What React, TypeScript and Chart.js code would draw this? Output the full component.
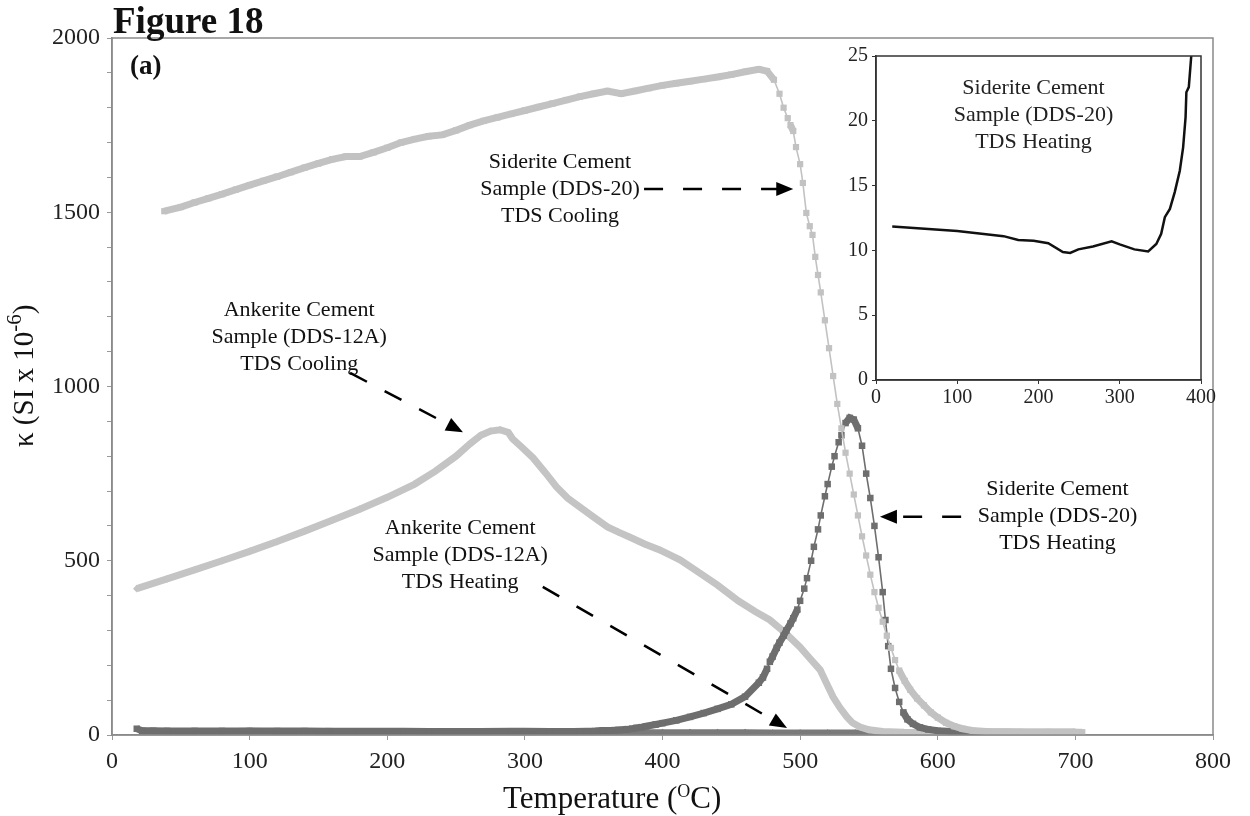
import React, { useEffect, useRef } from "react";
import { Chart, registerables } from "chart.js";
Chart.register(...registerables);

const FONT = "'Liberation Serif', 'Times New Roman', serif";

// Siderite cement (DDS-20), TDS cooling
const sidCoolT = [38, 50, 60, 70, 80, 90, 100, 110, 120, 130, 140, 150, 160, 170, 180, 190, 200, 210, 220, 230, 240, 250, 260, 270, 280, 290, 300, 310, 320, 330, 340, 350, 360, 370, 380, 390, 400, 410, 420, 430, 440, 450, 460, 470, 476, 481, 485, 488, 491, 493, 495, 497, 500, 502, 504.5, 507, 509, 511, 513, 515, 518, 521, 524, 527, 530, 533, 536, 539, 542, 545, 548, 551, 554, 557, 560, 563, 566, 569, 572, 576, 580, 585, 590, 595, 600, 606, 612, 618, 625, 635, 650, 665, 680, 695, 705];
const sidCoolK = [1503, 1515, 1528, 1540, 1552, 1565, 1578, 1590, 1602, 1615, 1628, 1640, 1652, 1660, 1660, 1672, 1685, 1700, 1710, 1718, 1722, 1735, 1750, 1762, 1772, 1782, 1792, 1802, 1812, 1822, 1832, 1840, 1848, 1840, 1848, 1856, 1864, 1870, 1876, 1882, 1888, 1895, 1903, 1910, 1905, 1880, 1840, 1800, 1770, 1750, 1733, 1687, 1638, 1584, 1498, 1460, 1435, 1372, 1320, 1270, 1190, 1110, 1030, 950, 880, 810, 750, 690, 630, 570, 515, 460, 410, 365, 325, 285, 250, 215, 185, 155, 130, 105, 85, 65, 50, 35, 25, 18, 13, 10, 9, 8, 8, 8, 8];

// Siderite cement (DDS-20), TDS heating
const sidHeatT = [18, 22, 30, 40, 60, 80, 100, 120, 140, 157, 175, 193, 212, 230, 239, 249, 267, 290, 300, 318, 335, 345, 351, 356, 362, 368, 374, 378, 381, 385, 388, 395, 400, 410, 420, 430, 440, 450, 460, 470, 473, 476, 478, 480, 483, 485, 488, 490, 493, 495, 498, 500, 503, 505, 508, 510, 513, 515, 518, 520, 523, 525, 528, 530, 533, 536, 539, 542, 545, 548, 551, 554, 557, 560, 562, 564, 566, 569, 572, 575, 578, 582, 587, 593, 600, 610, 620, 640, 660, 680, 700];
const sidHeatK = [18, 12, 12, 11.8, 11.6, 11.5, 11.4, 11.3, 11.2, 11.1, 10.8, 10.75, 10.56, 9.87, 9.8, 10.08, 10.3, 10.7, 10.46, 10.08, 9.92, 10.5, 11.3, 12.6, 13.2, 14.5, 16.2, 18, 20.3, 22.6, 25, 30, 34, 42, 52, 63, 75, 88, 110, 150, 165, 190, 210, 225, 250, 265, 285, 300, 320, 335, 360, 385, 420, 450, 500, 540, 590, 630, 685, 720, 770, 800, 840, 860, 895, 910, 905, 880, 830, 750, 680, 600, 510, 410, 330, 255, 190, 135, 95, 65, 45, 32, 22, 16, 12, 10, 9, 8, 8, 8, 8];

// Ankerite cement (DDS-12A), TDS cooling
const ankCoolT = [18, 40, 60, 80, 100, 120, 140, 160, 180, 200, 220, 235, 250, 260, 268, 275, 282, 288, 291, 298, 306, 315, 323, 331, 340, 350, 360, 368, 376, 387, 398, 413, 425, 440, 455, 467, 478, 490, 500, 507, 514.5, 519, 524, 529, 534, 538, 543.6, 550, 560, 575, 600, 620];
const ankCoolK = [420, 448, 474, 500, 527, 555, 585, 616, 648, 682, 720, 757, 800, 835, 860, 872, 876, 868, 850, 825, 795, 752, 712, 680, 654, 625, 597, 582, 568, 548, 531, 502, 470, 430, 385, 355, 330, 290, 252, 220, 187, 150, 109, 78, 52, 35, 23, 15, 10, 8, 7, 7];

// Ankerite cement (DDS-12A), TDS heating
const ankHeatT = [20, 40, 60, 80, 100, 120, 140, 160, 180, 200, 220, 240, 260, 280, 300, 320, 340, 360, 380, 400, 420, 440, 460, 480, 500, 520, 540, 560, 580, 600, 620, 640, 660, 680, 700];
const ankHeatK = [12, 11, 11, 11, 12, 11, 11, 11, 10, 10, 10, 10, 9, 9, 9, 9, 9, 9, 8, 8, 8, 8, 8, 7, 7, 7, 7, 6, 6, 6, 6, 6, 6, 6, 6];

// Inset: siderite cement (DDS-20), TDS heating, low-temperature detail
const insetT = [20, 100, 157, 175, 194, 212, 230, 239, 249, 267, 290, 300, 318, 335, 345, 351, 355.5, 361.7, 367.7, 373.9, 378, 381, 382, 385, 388];
const insetK = [11.85, 11.5, 11.1, 10.8, 10.75, 10.56, 9.87, 9.8, 10.08, 10.3, 10.7, 10.46, 10.08, 9.92, 10.5, 11.28, 12.56, 13.2, 14.5, 16.15, 17.95, 20.26, 22.2, 22.6, 25];

const xTicksMain = { min: 0, max: 800, step: 100 };
const yTicksMain = { min: 0, max: 2000, step: 100, labelEvery: 500 };
const xTicksInset = { min: 0, max: 400, step: 100 };
const yTicksInset = { min: 0, max: 25, step: 5 };

// Annotation labels, anchored in data units (centre of the middle line)
const labelTexts = [
  ["Siderite Cement", "Sample (DDS-20)", "TDS Cooling"],
  ["Ankerite Cement", "Sample (DDS-12A)", "TDS Cooling"],
  ["Ankerite Cement", "Sample (DDS-12A)", "TDS Heating"],
  ["Siderite Cement", "Sample (DDS-20)", "TDS Heating"],
];
const labelAt = [
  [325.5, 1567],
  [136, 1142],
  [253, 517],
  [687, 628],
];
// Arrows: [fromT, fromK, toT, toK]
const arrowsAt = [
  [386.6, 1567, 495, 1567],
  [173, 1039, 255, 869],
  [313, 425, 490.5, 20],
  [617, 626, 558, 626],
];
const insetLabel = ["Siderite Cement", "Sample (DDS-20)", "TDS Heating"];

const toXY = (xs: number[], ys: number[]) => xs.map((x, i) => ({ x, y: ys[i] }));

const band = (thick: number, thin: number) => (ctx: any) => {
  const dx = Math.abs(ctx.p1.x - ctx.p0.x);
  const dy = Math.abs(ctx.p1.y - ctx.p0.y);
  return dy > 2.5 * dx ? thin : thick;
};

function drawRich(ctx: CanvasRenderingContext2D, parts: { t: string; sup?: boolean }[], x: number, y: number, size: number, supSize: number, rise: number) {
  let cx = x;
  for (const p of parts) {
    ctx.font = `${p.sup ? supSize : size}px ${FONT}`;
    ctx.fillText(p.t, cx, p.sup ? y - rise : y);
    cx += ctx.measureText(p.t).width;
  }
}

function drawArrow(ctx: CanvasRenderingContext2D, x0: number, y0: number, x1: number, y1: number) {
  const ang = Math.atan2(y1 - y0, x1 - x0);
  const head = 17;
  const hw = 7;
  const bx = x1 - head * Math.cos(ang);
  const by = y1 - head * Math.sin(ang);
  ctx.save();
  ctx.strokeStyle = "#000";
  ctx.fillStyle = "#000";
  ctx.lineWidth = 2.5;
  ctx.setLineDash([19, 20]);
  ctx.beginPath();
  ctx.moveTo(x0, y0);
  ctx.lineTo(bx + 2 * Math.cos(ang), by + 2 * Math.sin(ang));
  ctx.stroke();
  ctx.setLineDash([]);
  ctx.beginPath();
  ctx.moveTo(x1, y1);
  ctx.lineTo(bx - hw * Math.sin(ang), by + hw * Math.cos(ang));
  ctx.lineTo(bx + hw * Math.sin(ang), by - hw * Math.cos(ang));
  ctx.closePath();
  ctx.fill();
  ctx.restore();
}

const mainDecor = {
  id: "mainDecor",
  afterDraw(chart: any) {
    const { ctx, chartArea: a, scales } = chart;
    const sx = scales.x, sy = scales.y;
    ctx.save();
    ctx.strokeStyle = "#8a8a8a";
    ctx.lineWidth = 1.5;
    ctx.strokeRect(a.left, a.top, a.right - a.left, a.bottom - a.top);
    ctx.fillStyle = "#111";
    ctx.textBaseline = "alphabetic";
    ctx.textAlign = "left";
    ctx.font = `bold 37px ${FONT}`;
    ctx.fillText("Figure 18", 113, 33);
    ctx.font = `bold 27px ${FONT}`;
    ctx.fillText("(a)", 130, 74);
    // axis titles
    drawRich(ctx, [{ t: "Temperature (" }, { t: "O", sup: true }, { t: "C)" }], 503, 808, 31, 18, 11);
    ctx.save();
    ctx.translate(33, 447);
    ctx.rotate(-Math.PI / 2);
    drawRich(ctx, [{ t: "\u03BA (SI x 10" }, { t: "-6", sup: true }, { t: ")" }], 0, 0, 29, 21, 12);
    ctx.restore();
    // annotations
    ctx.font = `22px ${FONT}`;
    ctx.textAlign = "center";
    ctx.textBaseline = "middle";
    labelTexts.forEach((lines, i) => {
      const cx = sx.getPixelForValue(labelAt[i][0]);
      const cy = sy.getPixelForValue(labelAt[i][1]);
      lines.forEach((l, j) => ctx.fillText(l, cx, cy + (j - 1) * 27));
    });
    arrowsAt.forEach((r) => {
      drawArrow(ctx, sx.getPixelForValue(r[0]), sy.getPixelForValue(r[1]), sx.getPixelForValue(r[2]), sy.getPixelForValue(r[3]));
    });
    ctx.restore();
  },
};

const insetDecor = {
  id: "insetDecor",
  beforeDraw(chart: any) {
    const { ctx, chartArea: a } = chart;
    ctx.save();
    ctx.fillStyle = "#fff";
    ctx.fillRect(a.left, a.top, a.right - a.left, a.bottom - a.top);
    ctx.restore();
  },
  afterDraw(chart: any) {
    const { ctx, chartArea: a } = chart;
    ctx.save();
    ctx.strokeStyle = "#333";
    ctx.lineWidth = 1.5;
    ctx.strokeRect(a.left, a.top, a.right - a.left, a.bottom - a.top);
    ctx.fillStyle = "#222";
    ctx.font = `22px ${FONT}`;
    ctx.textAlign = "center";
    ctx.textBaseline = "middle";
    const cx = (a.left + a.right) / 2 - 5;
    insetLabel.forEach((l, j) => ctx.fillText(l, cx, a.top + 32 + j * 27));
    ctx.restore();
  },
};

export default function App() {
  const mainRef = useRef<HTMLCanvasElement>(null);
  const insetRef = useRef<HTMLCanvasElement>(null);

  useEffect(() => {
    const tickFont = { family: FONT, size: 24 };
    const main = new Chart(mainRef.current!, {
      type: "scatter",
      data: {
        datasets: [
          {
            label: "Siderite cooling",
            data: toXY(sidCoolT, sidCoolK),
            showLine: true,
            borderColor: "#c2c2c2",
            backgroundColor: "#c2c2c2",
            pointStyle: "rect",
            pointRadius: 4.4,
            pointBorderWidth: 0,
            segment: { borderWidth: band(7, 1.6) },
            order: 1,
          },
          {
            label: "Siderite heating",
            data: toXY(sidHeatT, sidHeatK),
            showLine: true,
            borderColor: "#6e6e6e",
            backgroundColor: "#6e6e6e",
            pointStyle: "rect",
            pointRadius: 4.6,
            pointBorderWidth: 0,
            segment: { borderWidth: band(7, 1.6) },
            order: 2,
          },
          {
            label: "Ankerite cooling",
            data: toXY(ankCoolT, ankCoolK),
            showLine: true,
            borderColor: "#c4c4c4",
            backgroundColor: "#c4c4c4",
            pointStyle: "rectRot",
            pointRadius: 3.8,
            pointBorderWidth: 0,
            segment: { borderWidth: band(7, 2) },
            order: 3,
          },
          {
            label: "Ankerite heating",
            data: toXY(ankHeatT, ankHeatK),
            showLine: true,
            borderColor: "#7a7a7a",
            backgroundColor: "#7a7a7a",
            pointStyle: "rectRot",
            pointRadius: 3.4,
            pointBorderWidth: 0,
            segment: { borderWidth: band(6, 2) },
            order: 4,
          },
        ],
      },
      options: {
        animation: false,
        responsive: false,
        maintainAspectRatio: false,
        layout: { padding: { top: 38, right: 37, left: 0, bottom: 0 } },
        plugins: { legend: { display: false }, tooltip: { enabled: false } },
        scales: {
          x: {
            type: "linear",
            min: xTicksMain.min,
            max: xTicksMain.max,
            ticks: { stepSize: xTicksMain.step, font: tickFont, color: "#222", padding: 7, maxRotation: 0 },
            grid: { drawOnChartArea: false, tickLength: 5, color: "#999" },
            border: { display: true, color: "#8a8a8a", width: 1.5 },
            afterFit: (s: any) => { s.height = 81; },
          },
          y: {
            type: "linear",
            min: yTicksMain.min,
            max: yTicksMain.max,
            ticks: {
              stepSize: yTicksMain.step,
              font: tickFont,
              color: "#222",
              padding: 7,
              callback: (v: any) => (Number(v) % yTicksMain.labelEvery === 0 ? String(v) : ""),
            },
            grid: { drawOnChartArea: false, tickLength: 5, color: "#999" },
            border: { display: true, color: "#8a8a8a", width: 1.5 },
            afterFit: (s: any) => { s.width = 112; },
          },
        },
      },
      plugins: [mainDecor],
    } as any);

    const insetFont = { family: FONT, size: 20 };
    const inset = new Chart(insetRef.current!, {
      type: "scatter",
      data: {
        datasets: [
          {
            data: toXY(insetT, insetK),
            showLine: true,
            borderColor: "#111",
            borderWidth: 2.5,
            pointRadius: 0,
          },
        ],
      },
      options: {
        animation: false,
        responsive: false,
        maintainAspectRatio: false,
        layout: { padding: { top: 15, right: 29, left: 0, bottom: 0 } },
        plugins: { legend: { display: false }, tooltip: { enabled: false } },
        scales: {
          x: {
            type: "linear",
            min: xTicksInset.min,
            max: xTicksInset.max,
            ticks: { stepSize: xTicksInset.step, font: insetFont, color: "#222", padding: 2, maxRotation: 0 },
            grid: { drawOnChartArea: false, tickLength: 4, color: "#333" },
            border: { display: true, color: "#333", width: 1.5 },
            afterFit: (s: any) => { s.height = 40; },
          },
          y: {
            type: "linear",
            min: yTicksInset.min,
            max: yTicksInset.max,
            ticks: { stepSize: yTicksInset.step, font: insetFont, color: "#222", padding: 4 },
            grid: { drawOnChartArea: false, tickLength: 4, color: "#333" },
            border: { display: true, color: "#333", width: 1.5 },
            afterFit: (s: any) => { s.width = 46; },
          },
        },
      },
      plugins: [insetDecor],
    } as any);

    return () => {
      main.destroy();
      inset.destroy();
    };
  }, []);

  return (
    <div style={{ position: "fixed", left: 0, top: 0, width: 1250, height: 816, background: "#fff" }}>
      <canvas ref={mainRef} width={1250} height={816} style={{ position: "absolute", left: 0, top: 0, width: 1250, height: 816 }} />
      <canvas ref={insetRef} width={400} height={380} style={{ position: "absolute", left: 830, top: 40, width: 400, height: 380 }} />
    </div>
  );
}
